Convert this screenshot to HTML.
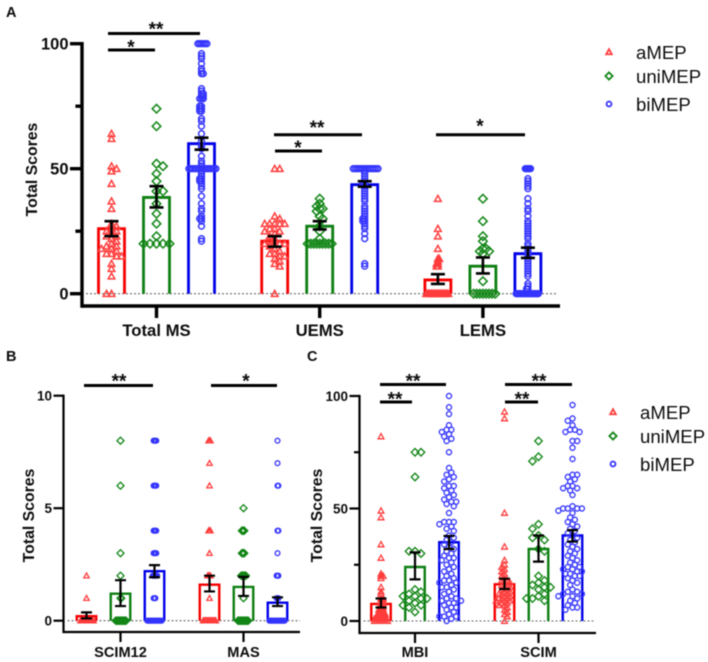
<!DOCTYPE html>
<html lang="en">
<head>
<meta charset="utf-8">
<title>Total Scores by MEP group</title>
<style>
html,body{margin:0;padding:0;background:#fff;width:708px;height:662px;overflow:hidden}
svg{display:block;filter:blur(0.45px)}
text{font-family:"Liberation Sans",sans-serif;fill:#0c0c0c}
.b{font-weight:bold}
</style>
</head>
<body>
<svg id="figure" xmlns="http://www.w3.org/2000/svg" width="708" height="662" viewBox="0 0 708 662"></svg>
<script>
// ---- Panel A data ----
const aCategories = ['Total MS', 'UEMS', 'LEMS'];
const aTicks = [0, 25, 50, 75, 100];
const aTickLabels = ['0', '', '50', '', '100'];
const aAmepMeans = [26, 21, 5.5];
const aAmepHigh = [29, 23, 7.8];
const aAmepLow = [23, 18.8, 3.9];
const aUniMeans = [38.5, 27, 11];
const aUniHigh = [43, 29, 14.5];
const aUniLow = [34.5, 25.7, 8.1];
const aBiMeans = [60, 43.6, 16];
const aBiHigh = [62.4, 45, 18.4];
const aBiLow = [57.6, 42.8, 14.3];
const aTotalAmep = [64,62,51,50,49,44,37,34,28,27,26,25,25,24,23,23,22,21,20,19,19,18,18,17,16,16,15,15,12,10,7,0,0];
const aTotalUni = [74,67,52,51,48,45,41,41,36,32,28,23,20,20,20,20,20];
const aTotalBi = [100,100,100,100,100,100,96,95,94,92,90,89,88,88,82,81,80,80,79,79,78,78,78,75,75,74,74,73,73,70,69,67,64,61,59,58,55,53,52,51,50,50,50,50,50,50,50,50,50,50,50,50,50,50,50,50,49,48,47,46,46,45,45,44,43,42,39,36,34,33,31,30,30,29,27,22,21];
const aUemsAmep = [50,50,31,30,28,28,28,28,28,26,26,25,25,24,23,22,21,20,20,20,20,19,18,17,16,16,15,15,14,13,12,11,0];
const aUemsUni = [38,36,35,34,34,33,31,30,27,25,22,20,20,20,20,20,20,20,20,20];
const aUemsBi = [50,50,50,50,50,50,50,50,50,50,50,50,50,50,49,48,47,46,45,44,44,43,42,41,40,39,38,37,35,34,33,32,31,30,30,29,29,28,27,26,24,22,12,11];
const aLemsAmep = [38,26,23,18,14,14,13,12,12,11,11,0,0,0,0,0,0,0,0,0,0,0,0,0,0,0,0,0,0];
const aLemsUni = [38,29,23,21,18,18,17,17,16,5,0,0,0,0,0,0,0,0];
const aLemsBi = [50,50,50,50,50,46,45,44,43,42,38,36,34,33,31,29,28,27,26,25,24,23,22,20,19,18,17,16,15,14,13,12,11,10,9,8,7,4,3,2,2,0,0,0,0,0,0,0,0,0,0,0,0,0,0,0,0,0,0];

// ---- Panel B data ----
const bCategories = ['SCIM12', 'MAS'];
const bTicks = [0, 5, 10];
const bTickLabels = ['0', '5', '10'];
const bAmepMeans = [0.2, 1.6];
const bAmepHigh = [0.37, 2];
const bAmepLow = [0.1, 1.3];
const bUniMeans = [1.2, 1.5];
const bUniHigh = [1.8, 1.95];
const bUniLow = [0.65, 1.1];
const bBiMeans = [2.2, 0.8];
const bBiHigh = [2.47, 1.04];
const bBiLow = [1.93, 0.65];
const bScim12Amep = [2,1,0,0,0,0,0,0,0,0,0,0,0,0,0,0];
const bScim12Uni = [8,6,3,2,1,1,0,0,0,0,0,0,0,0,0,0,0,0,0,0];
const bScim12Bi = [8,8,8,8,6,6,6,6,4,4,4,4,3,3,3,3,2,2,2,2,2,2,1,1,1,0,0,0,0,0,0,0,0,0,0,0,0,0,0,0,0,0];
const bMasAmep = [8,8,8,7,6,4,4,4,3,2,2,2,2,1,0,0,0,0,0,0,0,0,0,0,0,0,0,0,0];
const bMasUni = [5,4,4,4,4,3,3,3,3,2,2,2,2,2,2,2,1,0,0,0,0,0,0,0,0,0,0,0,0,0,0];
const bMasBi = [8,7,6,6,4,4,3,2,2,2,1,1,1,0,0,0,0,0,0,0,0,0,0,0,0,0,0,0,0,0,0];

// ---- Panel C data ----
const cCategories = ['MBI', 'SCIM'];
const cTicks = [0, 25, 50, 75, 100];
const cTickLabels = ['0', '', '50', '', '100'];
const cAmepMeans = [7.6, 16.3];
const cAmepHigh = [10, 18.8];
const cAmepLow = [6, 14.2];
const cUniMeans = [24, 32];
const cUniHigh = [30.5, 38];
const cUniLow = [18.5, 26.4];
const cBiMeans = [35, 38];
const cBiHigh = [37.8, 40.4];
const cBiLow = [32, 35.3];
const cMbiAmep = [82,49,46,34,28,21,20,20,19,15,13,12,10,10,9,9,8,8,7,7,6,6,5,5,5,4,4,4,3,3,3,3,2,2,2,2,2,1,1,1,1,1,1,0,0,0,0,0,0,0];
const cMbiUni = [75,75,64,31,31,30,14,13,12,11,11,10,10,9,8,7,7,6,4];
const cMbiBi = [100,95,92,87,85,85,84,83,82,81,80,75,68,66,65,64,63,62,60,60,59,58,57,56,55,54,53,53,52,51,48,44,44,44,43,42,41,40,38,37,36,35,34,33,32,31,30,29,28,28,27,26,25,24,23,22,21,20,19,18,18,17,17,16,15,15,14,13,12,11,10,10,9,9,8,8,7,6,6,5,4,3,2,2,2,1,0];
const cScimAmep = [93,90,48,33,27,25,24,23,22,21,20,19,18,18,17,17,16,16,15,15,14,14,13,13,12,12,12,11,11,10,10,10,9,9,9,8,8,7,7,6,5,4,3,2,0];
const cScimUni = [80,73,71,43,41,38,37,36,32,31,20,18,17,16,15,15,14,12,11,10,10,9];
const cScimBi = [96,90,89,87,85,85,84,84,80,80,77,72,65,65,64,63,62,60,60,59,59,58,56,51,50,50,50,50,49,48,46,45,44,43,42,41,40,39,38,37,36,35,34,33,32,31,30,29,28,27,26,25,24,24,23,23,22,22,21,21,20,20,19,18,17,16,14,13,13,12,12,11,11,10,9,8,7,6,6,5];

// ---- Shared ----
const seriesNames = ['aMEP', 'uniMEP', 'biMEP'];

const NS = 'http://www.w3.org/2000/svg';
const svg = document.getElementById('figure');
const BAR = ['#f50000', '#0e7f12', '#0000e8'];
const MARK = ['#ff3c3c', '#128616', '#3434ff'];

function mk(parent, tag, attrs, txt) {
  const e = document.createElementNS(NS, tag);
  for (const k in attrs) e.setAttribute(k, attrs[k]);
  if (txt !== undefined) e.textContent = txt;
  parent.appendChild(e);
  return e;
}

function marker(parent, s, x, y, size, sw) {
  let m;
  if (s === 0) {
    const r = size;
    m = mk(parent, 'polygon', {points: x + ',' + (y - r) + ' ' + (x + r) + ',' + (y + r * 0.8) + ' ' + (x - r) + ',' + (y + r * 0.8), fill: 'none', stroke: MARK[0], 'stroke-width': sw});
  } else if (s === 1) {
    const r = size * 1.3;
    m = mk(parent, 'polygon', {points: x + ',' + (y - r) + ' ' + (x + r) + ',' + y + ' ' + x + ',' + (y + r) + ' ' + (x - r) + ',' + y, fill: 'none', stroke: MARK[1], 'stroke-width': sw});
  } else {
    m = mk(parent, 'circle', {cx: x, cy: y, r: size * 0.88, fill: 'none', stroke: MARK[2], 'stroke-width': sw});
  }
  return m;
}

// Beeswarm layout: derives horizontal jitter from the values only.
function swarm(values, spacing, yOf) {
  const sorted = values.slice().sort(function (p, q) { return q - p; });
  const placed = [];
  const step = spacing / 2;
  sorted.forEach(function (v) {
    const y = yOf(v);
    let k = 0, dx = 0, done = false;
    while (!done) {
      const cands = k === 0 ? [0] : (placed.length % 2 ? [k * step, -k * step] : [-k * step, k * step]);
      for (let i = 0; i < cands.length && !done; i++) {
        const c = cands[i];
        const hit = placed.some(function (p) { return Math.hypot(p.dx - c, p.y - y) < spacing - 0.01; });
        if (!hit) { dx = c; done = true; }
      }
      k++;
    }
    placed.push({v: v, dx: dx, y: y});
  });
  return placed;
}

function drawPanel(p) {
  const g = mk(svg, 'g', {});
  
  
  const yOf = function (v) { return p.y0 - v * p.pxPerUnit; };
  const xOf = function (i) { return p.x0 + i * p.step; };

  // baseline dotted
  const dot = mk(g, 'line', {x1: p.axisX + 4, x2: p.dotEnd, y1: yOf(0), y2: yOf(0), stroke: '#666', 'stroke-width': 1.1, 'stroke-dasharray': '2 2'});
  
  

  p.categories.forEach(function (cat, c) {
    for (let s = 0; s < 3; s++) {
      const cx = xOf(c) + (s - 1) * p.offset;
      const hw = p.barW / 2;
      const top = yOf(p.means[s][c]);
      const bar = mk(g, 'path', {d: 'M' + (cx - hw) + ' ' + yOf(0) + 'V' + top + 'H' + (cx + hw) + 'V' + yOf(0), fill: 'none', stroke: BAR[s], 'stroke-width': p.barSW});
      
      

      const pts = mk(g, 'g', {});
      
      
      swarm(p.scores[c][s], p.spacing[c][s], yOf).forEach(function (d) {
        const pt = marker(pts, s, cx + d.dx, d.y, p.markSize, p.markSW);
        
        
      });
    }
  });

  // error bars on top
  p.categories.forEach(function (cat, c) {
    for (let s = 0; s < 3; s++) {
      const cx = xOf(c) + (s - 1) * p.offset;
      const yh = yOf(p.high[s][c]), yl = yOf(p.low[s][c]);
      const cw = p.capW / 2;
      const err = mk(g, 'path', {d: 'M' + (cx - cw) + ' ' + yh + 'H' + (cx + cw) + 'M' + cx + ' ' + yh + 'V' + yl + 'M' + (cx - cw) + ' ' + yl + 'H' + (cx + cw), fill: 'none', stroke: '#000', 'stroke-width': p.errSW});
      
      
    }
  });

  // axes
  const ya = mk(g, 'line', {x1: p.axisX, x2: p.axisX, y1: yOf(p.ticks[p.ticks.length - 1]) - p.axisSW / 2, y2: p.axisY + p.axisSW / 2, stroke: '#000', 'stroke-width': p.axisSW});
  
  
  const xa = mk(g, 'line', {x1: p.axisX, x2: p.axisEnd, y1: p.axisY, y2: p.axisY, stroke: '#000', 'stroke-width': p.axisSW});
  
  

  p.ticks.forEach(function (t, i) {
    const y = yOf(t);
    const major = p.tickLabels[i] !== '';
    const len = major ? p.tickLen : p.tickLen * 0.55;
    const tk = mk(g, 'line', {x1: p.axisX - len, x2: p.axisX, y1: y, y2: y, stroke: '#000', 'stroke-width': p.axisSW});
    
    
    if (major) {
      const lb = mk(g, 'text', {x: p.axisX - p.tickLen - 1.5, y: y + p.tickFont * 0.36, 'text-anchor': 'end', 'font-size': p.tickFont, 'class': 'b'}, p.tickLabels[i]);
      
      
    }
  });

  p.categories.forEach(function (cat, c) {
    const tk = mk(g, 'line', {x1: xOf(c), x2: xOf(c), y1: p.axisY, y2: p.axisY + p.tickLen, stroke: '#000', 'stroke-width': p.axisSW});
    
    
    const lb = mk(g, 'text', {x: xOf(c), y: p.catY, 'text-anchor': 'middle', 'font-size': p.catFont, 'class': 'b'}, cat);
    
    
  });

  const yt = mk(g, 'text', {transform: 'translate(' + p.titleX + ',' + p.titleY + ') rotate(-90)', 'text-anchor': 'middle', 'font-size': 15.8, 'class': 'b'}, 'Total Scores');
  
  

  const pl = mk(g, 'text', {x: p.letterX, y: p.letterY, 'font-size': 14.5, 'class': 'b'}, p.letter);
  
  

  // significance
  p.sig.forEach(function (b) {
    const ln = mk(g, 'line', {x1: b[0], x2: b[1], y1: b[2], y2: b[2], stroke: '#000', 'stroke-width': 3});
    
    
    const st = mk(g, 'text', {x: b[3], y: b[4] + 10.6, 'text-anchor': 'middle', 'font-size': 19, 'class': 'b'}, b[5]);
    
    
  });

  // legend
  if (p.legend) {
    const lg = mk(g, 'g', {});
    
    
    seriesNames.forEach(function (nm, s) {
      const e = mk(lg, 'g', {});
      
      
      const ms = marker(e, s, p.legend.mx, p.legend.my[s], 2.8, 1.8);
      
      
      const tx = mk(e, 'text', {x: p.legend.tx, y: p.legend.ty[s], 'font-size': 18.6}, nm);
      
      
    });
  }
}

drawPanel({
  id: 'a', letter: 'A', letterX: 6, letterY: 17,
  categories: aCategories, ticks: aTicks, tickLabels: aTickLabels,
  means: [aAmepMeans, aUniMeans, aBiMeans], high: [aAmepHigh, aUniHigh, aBiHigh], low: [aAmepLow, aUniLow, aBiLow],
  scores: [[aTotalAmep, aTotalUni, aTotalBi], [aUemsAmep, aUemsUni, aUemsBi], [aLemsAmep, aLemsUni, aLemsBi]],
  spacing: [[5, 6.5, 1.8], [5, 3, 1.9], [1.3, 3.1, 1.3]],
  y0: 293.7, pxPerUnit: 2.5, x0: 156.5, step: 163.2, offset: 45, barW: 26, barSW: 2.8,
  markSize: 3.3, markSW: 1.5, capW: 14, errSW: 2.6,
  axisX: 82, axisY: 306, axisEnd: 560, axisSW: 3.4, dotEnd: 558, tickLen: 12, tickFont: 16.5,
  catY: 336, catFont: 16.7, titleX: 37, titleY: 169.5,
  sig: [[108,200,33.5,156,25,'**'],[108,155,50,131,43,'*'],[274,362,134.7,317,123.5,'**'],[275,322,151,298,143.5,'*'],[436,525,134.7,480,122,'*']],
  legend: {mx: 609, my: [52, 76, 104], tx: 636, ty: [59, 83, 111]}
});

drawPanel({
  id: 'b', letter: 'B', letterX: 6, letterY: 361,
  categories: bCategories, ticks: bTicks, tickLabels: bTickLabels,
  means: [bAmepMeans, bUniMeans, bBiMeans], high: [bAmepHigh, bUniHigh, bBiHigh], low: [bAmepLow, bUniLow, bBiLow],
  scores: [[bScim12Amep, bScim12Uni, bScim12Bi], [bMasAmep, bMasUni, bMasBi]],
  spacing: [[1, 0.8, 0.9], [0.9, 0.8, 0.9]],
  y0: 620.7, pxPerUnit: 22.5, x0: 120.5, step: 123, offset: 34, barW: 19.5, barSW: 2.4,
  markSize: 2.7, markSW: 1.3, capW: 11, errSW: 2.2,
  axisX: 63.5, axisY: 632, axisEnd: 300, axisSW: 2.2, dotEnd: 300, tickLen: 10, tickFont: 13.5,
  catY: 657, catFont: 14.6, titleX: 34, titleY: 515.5,
  sig: [[84,153,385.5,119,377,'**'],[211,277,385.5,246,377,'*']]
});

drawPanel({
  id: 'c', letter: 'C', letterX: 307, letterY: 361,
  categories: cCategories, ticks: cTicks, tickLabels: cTickLabels,
  means: [cAmepMeans, cUniMeans, cBiMeans], high: [cAmepHigh, cUniHigh, cBiHigh], low: [cAmepLow, cUniLow, cBiLow],
  scores: [[cMbiAmep, cMbiUni, cMbiBi], [cScimAmep, cScimUni, cScimBi]],
  spacing: [[2.2, 6, 4.8], [2.8, 6, 4.7]],
  y0: 621, pxPerUnit: 2.25, x0: 415, step: 123.5, offset: 34, barW: 19.5, barSW: 2.4,
  markSize: 2.9, markSW: 1.3, capW: 11, errSW: 2.2,
  axisX: 359.5, axisY: 633, axisEnd: 596, axisSW: 2.2, dotEnd: 594, tickLen: 10, tickFont: 13.5,
  catY: 657, catFont: 14.6, titleX: 322, titleY: 515.5,
  sig: [[380,446,384.5,413,377,'**'],[380,412,402,395,395,'**'],[505,572,384.5,539,377,'**'],[505,538,402,522,395,'**']],
  legend: {mx: 613, my: [412, 436, 464], tx: 640, ty: [419, 443, 471]}
});
</script>
</body>
</html>
